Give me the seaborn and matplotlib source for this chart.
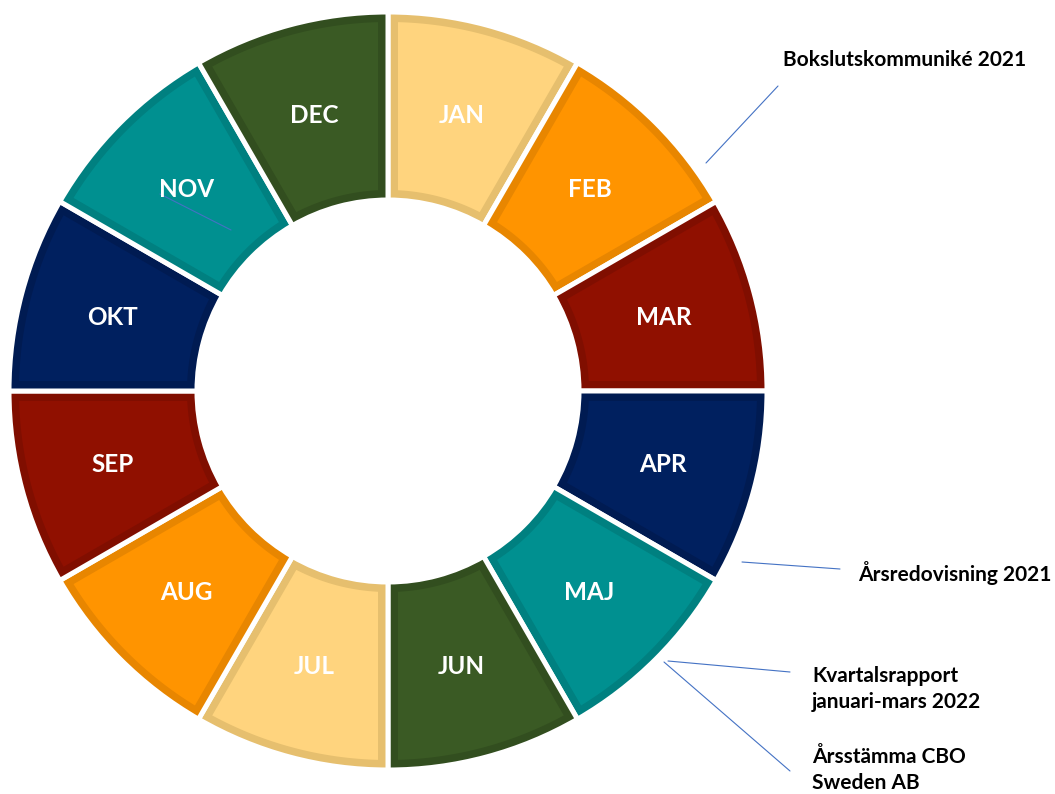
import matplotlib
matplotlib.use("Agg")
import matplotlib.pyplot as plt
import seaborn as sns
import numpy as np

months = ["JAN", "FEB", "MAR", "APR", "MAJ", "JUN",
          "JUL", "AUG", "SEP", "OKT", "NOV", "DEC"]
values = [1, 1, 1, 1, 1, 1, 1, 1, 1, 1, 1, 1]
face_colors = ["#FFD47E", "#FF9400", "#901000", "#00205F", "#009090", "#3A5A24",
               "#FFD47E", "#FF9400", "#901000", "#00205F", "#009090", "#3A5A24"]
edge_colors = ["#E6BF6E", "#E88600", "#800E00", "#001B52", "#008080", "#324E1F",
               "#E6BF6E", "#E88600", "#800E00", "#001B52", "#008080", "#324E1F"]

events = ["Bokslutskommuniké 2021", "Årsredovisning 2021",
          "Kvartalsrapport\njanuari-mars 2022", "Årsstämma CBO\nSweden AB"]
# leader lines (start at ring, end near text) and text anchor, in pixels
event_lines = [((706, 163), (778, 86)), ((742, 562), (840, 569)),
               ((668, 661), (790, 672)), ((664, 662), (790, 771))]
event_text = [(783, 60), (858, 573), (812, 689), (812, 770)]

W_PX, H_PX = 1055, 794
CX, CY = 388, 391
R_OUT, R_IN = 379, 191
GAP = 5      # white gap between segments, px
BORDER = 7.5  # darker rim inside each segment, px

sns.set_theme(style="white")
plt.rcParams['font.family'] = ['Lato', 'DejaVu Sans']

fig = plt.figure(figsize=(10.55, 7.94), dpi=100)
ax = fig.add_axes([0, 0, 1, 1])


def fy(y):
    return H_PX - y


# base ring: darker rim colour, white gaps between segments
wedges, _ = ax.pie(values, colors=edge_colors, startangle=90, counterclock=False,
                   radius=R_OUT, center=(CX, fy(CY)), frame=True,
                   wedgeprops=dict(width=R_OUT - R_IN, linewidth=GAP * 0.72,
                                   edgecolor="white"))

# lighter inner fill, inset by the rim width
d = GAP / 2 + BORDER
r_o = R_OUT - GAP / 2 - BORDER
r_i = R_IN + GAP / 2 + BORDER
for w, fc in zip(wedges, face_colors):
    t1, t2 = np.deg2rad(w.theta1), np.deg2rad(w.theta2)
    ao = np.linspace(t1 + np.arcsin(d / r_o), t2 - np.arcsin(d / r_o), 60)
    ai = np.linspace(t2 - np.arcsin(d / r_i), t1 + np.arcsin(d / r_i), 60)
    xs = np.concatenate([CX + r_o * np.cos(ao), CX + r_i * np.cos(ai)])
    ys = np.concatenate([fy(CY) + r_o * np.sin(ao), fy(CY) + r_i * np.sin(ai)])
    ax.fill(xs, ys, color=fc, lw=0)

# month labels at the middle of the ring
r_mid = (R_OUT + R_IN) / 2
for w, m in zip(wedges, months):
    ang = np.deg2rad((w.theta1 + w.theta2) / 2)
    ax.text(CX + r_mid * np.cos(ang), fy(CY) + r_mid * np.sin(ang), m,
            color="white", fontsize=17.5, fontweight="bold", ha="center", va="center")

# stray line in NOV segment
ax.plot([160, 231], [fy(194), fy(230)], color="#4472C4", lw=0.8)

for (p0, p1), txt, (tx, ty) in zip(event_lines, events, event_text):
    ax.plot([p0[0], p1[0]], [fy(p0[1]), fy(p1[1])], color="#4472C4", lw=0.8)
    ax.text(tx, fy(ty), txt, fontsize=15, fontweight="bold", color="black",
            ha="left", va="center", linespacing=1.4)

ax.set_xlim(0, W_PX)
ax.set_ylim(0, H_PX)
ax.set_aspect("auto")
ax.axis("off")
fig.savefig("out.png", dpi=100, facecolor="white")
